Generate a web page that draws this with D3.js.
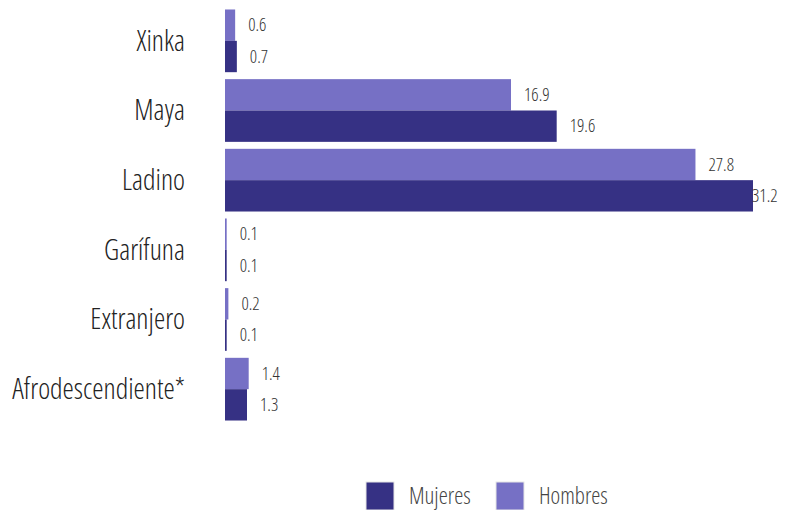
<!DOCTYPE html>
<html>
<head>
<meta charset="utf-8">
<script src="https://cdn.jsdelivr.net/npm/d3@7"></script>
<style>
  body { margin: 0; background: #fff; }
  svg text { font-family: "Open Sans", sans-serif; font-stretch: 75%; font-weight: 300; }
</style>
</head>
<body>
<svg id="chart" width="786" height="510"></svg>
<script>
const categories = ["Xinka", "Maya", "Ladino", "Garífuna", "Extranjero", "Afrodescendiente*"];
const series = ["Hombres", "Mujeres"];
const hombres = [0.6, 16.9, 27.8, 0.1, 0.2, 1.4];
const mujeres = [0.7, 19.6, 31.2, 0.1, 0.1, 1.3];
const legendOrder = ["Mujeres", "Hombres"];

const colors = { Hombres: "#7670c5", Mujeres: "#363184" };
const values = { Hombres: hombres, Mujeres: mujeres };

const svg = d3.select("#chart");
const left = 225;

const x = d3.scaleLinear().domain([0, 31.2]).range([left, 753]);
const y0 = d3.scaleBand().domain(categories).range([6, 424]).paddingInner(0.1).paddingOuter(0.05);
const y1 = d3.scaleBand().domain(series).range([0, y0.bandwidth()]);

const rows = categories.map((c, i) => ({
    cat: c,
    items: series.map(s => ({ s, v: values[s][i] }))
}));

const g = svg.selectAll("g.row").data(rows).enter().append("g")
    .attr("class", "row")
    .attr("transform", d => `translate(0,${y0(d.cat)})`);

g.selectAll("rect").data(d => d.items).enter().append("rect")
    .attr("x", x(0))
    .attr("y", d => y1(d.s))
    .attr("width", d => Math.max(1.5, x(d.v) - x(0)))
    .attr("height", y1.bandwidth())
    .attr("fill", d => colors[d.s]);

// value labels, pulled back inside when they would run off the right edge
g.selectAll("text.val").data(d => d.items).enter().append("text")
    .attr("class", "val")
    .attr("x", d => Math.min(x(d.v) + 13, 752))
    .attr("y", d => y1(d.s) + y1.bandwidth() / 2)
    .attr("dy", "0.35em")
    .attr("fill", "#333")
    .style("font-size", "18px")
    .text(d => d.v.toFixed(1));

// category labels
svg.selectAll("text.cat").data(categories).enter().append("text")
    .attr("class", "cat")
    .attr("x", 185)
    .attr("y", d => y0(d) + y0.bandwidth() / 2)
    .attr("dy", "0.35em")
    .attr("text-anchor", "end")
    .attr("fill", "#222")
    .style("font-size", "28.5px")
    .text(d => d);

// legend
const legendX = d3.scalePoint().domain(legendOrder).range([366, 496]);
const lg = svg.selectAll("g.legend").data(legendOrder).enter().append("g")
    .attr("class", "legend")
    .attr("transform", d => `translate(${legendX(d)},482)`);
lg.append("rect")
    .attr("width", 28).attr("height", 28)
    .attr("fill", d => colors[d])
    .attr("stroke", "#e6e6e6").attr("stroke-width", 1);
lg.append("text")
    .attr("x", 43).attr("y", 14).attr("dy", "0.35em")
    .attr("fill", "#444")
    .style("font-size", "23px")
    .text(d => d);
</script>
</body>
</html>
